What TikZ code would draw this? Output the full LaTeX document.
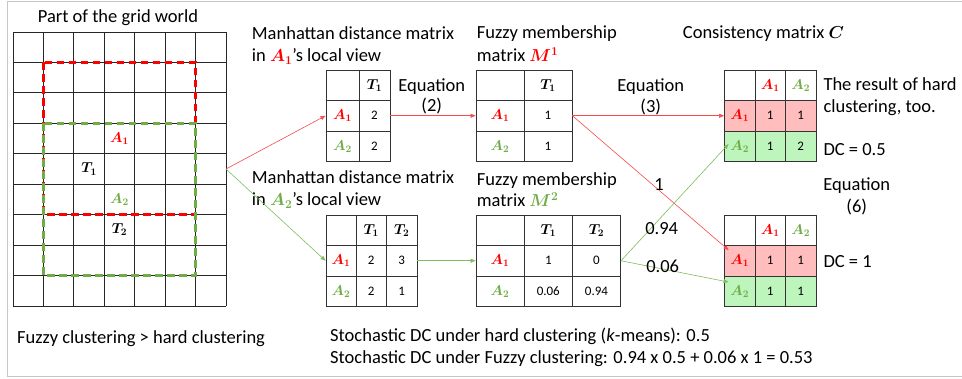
\documentclass[tikz,border=0pt]{standalone}
\usepackage{amsmath,bm}
\usepackage{fontspec}
\setmainfont{Carlito}
\usetikzlibrary{arrows.meta}
\definecolor{cred}{HTML}{FF0000}
\definecolor{cgreen}{HTML}{70AD47}
\definecolor{lred}{rgb}{0.96,0.30,0.30}
\definecolor{lgreen}{rgb}{0.50,0.74,0.36}
\definecolor{fillred}{HTML}{FFBDBD}
\definecolor{fillgreen}{HTML}{BDF5BD}
\newcommand{\Av}[1]{\bm{A}_{\bm{#1}}}
\newcommand{\Tv}[1]{\bm{T}_{\bm{#1}}}
\newcommand{\cv}[1]{{\fontsize{14.5}{16}\selectfont$#1$}}
\newcommand{\Ar}{\textcolor{cred}{$\Av1$}}
\newcommand{\Ag}{\textcolor{cgreen}{$\Av2$}}
\begin{document}
\begin{tikzpicture}[x=1pt,y=-1pt,
  txt/.style={font=\fontsize{18.5}{22.4}\selectfont, inner sep=0pt, anchor=base west},
  txtc/.style={txt, anchor=base},
  cell/.style={draw=black!80, line width=0.9pt, inner sep=0pt, font=\fontsize{13}{15}\selectfont, minimum height=30.5pt},
  rowr/.style={fill=fillred},
  rowg/.style={fill=fillgreen},
  redarr/.style={draw=lred, line width=0.6pt, -{Triangle[length=5pt,width=4pt]}},
  greenarr/.style={draw=lgreen, line width=0.6pt, -{Triangle[length=5pt,width=4pt]}},
  gridline/.style={black!85, line width=0.9pt},
  reddash/.style={cred, line width=2.6pt, dash pattern=on 7.5pt off 4.5pt},
  greendash/.style={cgreen, line width=2.6pt, dash pattern=on 7.5pt off 4.5pt},
  frame/.style={black!22, line width=1pt}]
\useasboundingbox (0,0) rectangle (962,378);
\fill[white] (0,0) rectangle (962,378);
% outer frame
\draw[frame] (962,1.5) -- (7,1.5) -- (7,376) -- (962,376);

% ---------- grid world ----------
\node[txtc] (gtitle) at (118,22.7) {Part of the grid world};
\foreach \i in {0,...,7} \draw[gridline] (13+\i*30.43,32) -- (13+\i*30.43,306);
\foreach \j in {0,...,9} \draw[gridline] (13,32+\j*30.44) -- (226,32+\j*30.44);
\draw[reddash] (43.4,62.4) rectangle (195.6,214.6);
\draw[greendash] (43.4,123.3) rectangle (195.6,275.5);
\node (gA1) at (119.5,138.5) {\cv{\color{cred}\Av1}};
\node (gT1) at (89.1,169) {\cv{\Tv1}};
\node (gA2) at (119.5,199.4) {\cv{\color{cgreen}\Av2}};
\node (gT2) at (119.5,229.9) {\cv{\Tv2}};
\coordinate (gridR) at (226,169);

% ---------- titles ----------
\node[txt] (t1a) at (251.7,39.3) {Manhattan distance matrix};
\node[txt] (t1b) at (251.7,61.7) {in \Ar's local view};
\node[txt] (t2a) at (476.7,38.3) {Fuzzy membership};
\node[txt] (t2b) at (476.7,61.7) {matrix \textcolor{cred}{$\bm{M}^{\bm{1}}$}};
\node[txt] (t3) at (682.7,38.3) {Consistency matrix $\bm{C}$};
\node[txt] (t4a) at (251.7,183.3) {Manhattan distance matrix};
\node[txt] (t4b) at (251.7,205.7) {in \Ag's local view};
\node[txt] (t5a) at (476.7,185) {Fuzzy membership};
\node[txt] (t5b) at (476.7,206.7) {matrix \textcolor{cgreen}{$\bm{M}^{\bm{2}}$}};

% ---------- D1 ----------
\node[cell, minimum width=33pt] (d1-00) at (342.5,85.25) {};
\node[cell, minimum width=31pt] (d1-01) at (374.5,85.25) {\cv{\Tv1}};
\node[cell, minimum width=33pt] (d1-10) at (342.5,115.75) {\cv{\color{cred}\Av1}};
\node[cell, minimum width=31pt] (d1-11) at (374.5,115.75) {2};
\node[cell, minimum width=33pt] (d1-20) at (342.5,146.25) {\cv{\color{cgreen}\Av2}};
\node[cell, minimum width=31pt] (d1-21) at (374.5,146.25) {2};

% ---------- M1 ----------
\node[cell, minimum width=48pt] (m1-00) at (500,85.25) {};
\node[cell, minimum width=48pt] (m1-01) at (548,85.25) {\cv{\Tv1}};
\node[cell, minimum width=48pt] (m1-10) at (500,115.75) {\cv{\color{cred}\Av1}};
\node[cell, minimum width=48pt] (m1-11) at (548,115.75) {1};
\node[cell, minimum width=48pt] (m1-20) at (500,146.25) {\cv{\color{cgreen}\Av2}};
\node[cell, minimum width=48pt] (m1-21) at (548,146.25) {1};

% ---------- C1 ----------
\node[cell, minimum width=30.5pt] (c1-00) at (739.75,85.25) {};
\node[cell, minimum width=30.5pt] (c1-01) at (770.25,85.25) {\cv{\color{cred}\Av1}};
\node[cell, minimum width=30.5pt] (c1-02) at (800.75,85.25) {\cv{\color{cgreen}\Av2}};
\node[cell, rowr, minimum width=30.5pt] (c1-10) at (739.75,115.75) {\cv{\color{cred}\Av1}};
\node[cell, rowr, minimum width=30.5pt] (c1-11) at (770.25,115.75) {1};
\node[cell, rowr, minimum width=30.5pt] (c1-12) at (800.75,115.75) {1};
\node[cell, rowg, minimum width=30.5pt] (c1-20) at (739.75,146.25) {\cv{\color{cgreen}\Av2}};
\node[cell, rowg, minimum width=30.5pt] (c1-21) at (770.25,146.25) {1};
\node[cell, rowg, minimum width=30.5pt] (c1-22) at (800.75,146.25) {2};

% ---------- D2 ----------
\node[cell, minimum width=30pt] (d2-00) at (341,230.25) {};
\node[cell, minimum width=30.5pt] (d2-01) at (371.25,230.25) {\cv{\Tv1}};
\node[cell, minimum width=30.5pt] (d2-02) at (401.75,230.25) {\cv{\Tv2}};
\node[cell, minimum width=30pt] (d2-10) at (341,260.75) {\cv{\color{cred}\Av1}};
\node[cell, minimum width=30.5pt] (d2-11) at (371.25,260.75) {2};
\node[cell, minimum width=30.5pt] (d2-12) at (401.75,260.75) {3};
\node[cell, minimum width=30pt] (d2-20) at (341,291.25) {\cv{\color{cgreen}\Av2}};
\node[cell, minimum width=30.5pt] (d2-21) at (371.25,291.25) {2};
\node[cell, minimum width=30.5pt] (d2-22) at (401.75,291.25) {1};

% ---------- M2 ----------
\node[cell, minimum width=48.2pt] (m2-00) at (500.1,230.25) {};
\node[cell, minimum width=48.2pt] (m2-01) at (548.3,230.25) {\cv{\Tv1}};
\node[cell, minimum width=48.2pt] (m2-02) at (596.5,230.25) {\cv{\Tv2}};
\node[cell, minimum width=48.2pt] (m2-10) at (500.1,260.75) {\cv{\color{cred}\Av1}};
\node[cell, minimum width=48.2pt] (m2-11) at (548.3,260.75) {1};
\node[cell, minimum width=48.2pt] (m2-12) at (596.5,260.75) {0};
\node[cell, minimum width=48.2pt] (m2-20) at (500.1,291.25) {\cv{\color{cgreen}\Av2}};
\node[cell, minimum width=48.2pt] (m2-21) at (548.3,291.25) {0.06};
\node[cell, minimum width=48.2pt] (m2-22) at (596.5,291.25) {0.94};

% ---------- C2 ----------
\node[cell, minimum width=30.5pt] (c2-00) at (739.75,230.25) {};
\node[cell, minimum width=30.5pt] (c2-01) at (770.25,230.25) {\cv{\color{cred}\Av1}};
\node[cell, minimum width=30.5pt] (c2-02) at (800.75,230.25) {\cv{\color{cgreen}\Av2}};
\node[cell, rowr, minimum width=30.5pt] (c2-10) at (739.75,260.75) {\cv{\color{cred}\Av1}};
\node[cell, rowr, minimum width=30.5pt] (c2-11) at (770.25,260.75) {1};
\node[cell, rowr, minimum width=30.5pt] (c2-12) at (800.75,260.75) {1};
\node[cell, rowg, minimum width=30.5pt] (c2-20) at (739.75,291.25) {\cv{\color{cgreen}\Av2}};
\node[cell, rowg, minimum width=30.5pt] (c2-21) at (770.25,291.25) {1};
\node[cell, rowg, minimum width=30.5pt] (c2-22) at (800.75,291.25) {1};

% ---------- connectors ----------
\draw[redarr] (gridR) -- (d1-10.west);
\draw[greenarr] (gridR) -- (d2-10.west);
\draw[redarr] (d1-11.east) -- (m1-10.west);
\draw[greenarr] (d2-12.east) -- (m2-10.west);
\draw[redarr] (m1-11.east) -- (c1-10.west);
\draw[redarr] (m1-11.east) -- ([xshift=4.5pt,yshift=-5pt]c2-10.north west);
\draw[greenarr] (m2-12.east) -- ([xshift=4.5pt,yshift=-13.5pt]c1-20.north west);
\draw[greenarr] (m2-12.east) -- ([xshift=4.5pt,yshift=-6.5pt]c2-20.north west);

% ---------- labels ----------
\node[txtc] (eq2a) at (431.7,91.7) {Equation};
\node[txtc] (eq2b) at (431.7,111.7) {(2)};
\node[txtc] (eq3a) at (650.7,91.7) {Equation};
\node[txtc] (eq3b) at (650.7,112) {(3)};
\node[txtc] (l1) at (659,190.7) {1};
\node[txtc] (l094) at (661.7,234) {0.94};
\node[txtc] (l006) at (662.7,272.3) {0.06};
\node[txt] (r1a) at (823.3,90.7) {The result of hard};
\node[txt] (r1b) at (823.3,112.3) {clustering, too.};
\node[txt] (dc1) at (823.3,155.7) {DC = 0.5};
\node[txtc] (eq6a) at (856.7,190.7) {Equation};
\node[txtc] (eq6b) at (856.7,212.7) {(6)};
\node[txt] (dc2) at (823.3,267.3) {DC = 1};

% ---------- bottom ----------
\node[txt] (b1) at (17,343.3) {Fuzzy clustering > hard clustering};
\node[txt] (b2) at (330,341.7) {Stochastic DC under hard clustering (\textit{k}-means): 0.5};
\node[txt] (b3) at (330,363.3) {Stochastic DC under Fuzzy clustering: 0.94 x 0.5 + 0.06 x 1 = 0.53};
\end{tikzpicture}
\end{document}
